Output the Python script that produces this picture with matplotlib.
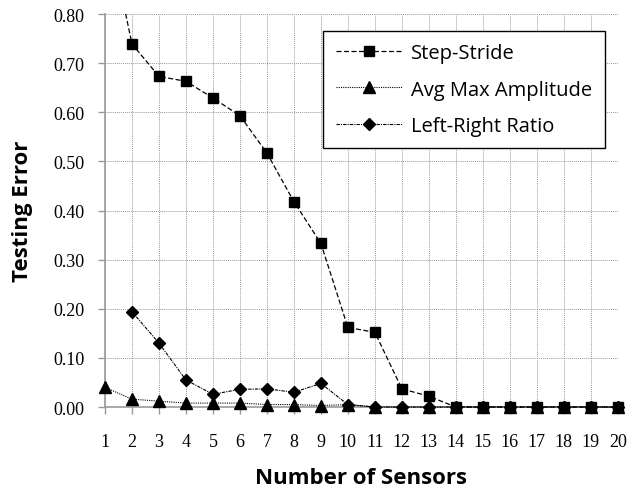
import numpy as np
import matplotlib
matplotlib.use("Agg")
import matplotlib.pyplot as plt
from matplotlib.patches import Rectangle

sensors = list(range(1, 21))
step_stride = [1.00, 0.739, 0.673, 0.663, 0.629, 0.593, 0.517, 0.418, 0.333, 0.162,
               0.152, 0.037, 0.022, 0.0, 0.0, 0.0, 0.0, 0.0, 0.0, 0.0]
avg_max_amp = [0.040, 0.016, 0.012, 0.008, 0.008, 0.008, 0.005, 0.005, 0.003, 0.005,
               0.0, 0.0, 0.0, 0.0, 0.0, 0.0, 0.0, 0.0, 0.0, 0.0]
left_right = [np.nan, 0.194, 0.130, 0.055, 0.026, 0.036, 0.037, 0.030, 0.048, 0.005,
              0.0, 0.0, 0.0, 0.0, 0.0, 0.0, 0.0, 0.0, 0.0, 0.0]
y_ticks = [0.0, 0.1, 0.2, 0.3, 0.4, 0.5, 0.6, 0.7, 0.8]

fig = plt.figure(figsize=(6.31, 4.89), dpi=100)
ax = fig.add_axes([0.1664, 0.1656, 0.8126, 0.8037])

ax.plot(sensors, step_stride, color="black", linestyle=(0, (4, 2)), linewidth=0.9,
        marker="s", markersize=7, label="Step-Stride", zorder=4)
ax.plot(sensors, avg_max_amp, color="black", linestyle=(0, (1, 1)), linewidth=0.8,
        marker="^", markersize=8, label="Avg Max Amplitude", zorder=3)
ax.plot(sensors, left_right, color="black", linestyle=(0, (3, 1, 1, 1)), linewidth=0.8,
        marker="D", markersize=6.5, label="Left-Right Ratio", zorder=3)

# let edge markers show, but keep the first step-stride point cut at the top
clip = Rectangle((-0.04, -0.06), 1.08, 1.06, transform=ax.transAxes)
for ln in ax.lines:
    ln.set_clip_path(clip)

ax.set_xlim(1, 20)
ax.set_ylim(0, 0.8)
ax.set_xticks(sensors)
ax.set_yticks(y_ticks)
ax.set_yticklabels([f"{v:.2f}" for v in y_ticks])
ax.grid(True, color="#999999", linestyle=(0, (1, 1)), linewidth=0.7)
ax.set_axisbelow(True)

for side in ["top", "right"]:
    ax.spines[side].set_visible(False)
for side in ["left", "bottom"]:
    ax.spines[side].set_color("#999999")
    ax.spines[side].set_linewidth(1.2)

ax.tick_params(axis="both", colors="#999999", length=5, width=1, labelcolor="black")
ax.tick_params(axis="x", pad=14)
ax.tick_params(axis="y", pad=10)
for lab in ax.get_xticklabels() + ax.get_yticklabels():
    lab.set_fontfamily("Liberation Serif")
    lab.set_fontsize(13)

ax.set_xlabel("Number of Sensors", fontsize=16, fontweight="bold", family="Open Sans", labelpad=12)
ax.set_ylabel("Testing Error", fontsize=16, fontweight="bold", family="Open Sans", labelpad=14)

leg = ax.legend(loc="upper right", bbox_to_anchor=(0.975, 0.957), borderaxespad=0,
                prop={"family": "Open Sans", "size": 14.5}, frameon=True, fancybox=False,
                handlelength=3.3, borderpad=0.62, labelspacing=0.8, handletextpad=0.45)
leg.get_frame().set_edgecolor("black")
leg.get_frame().set_linewidth(1.0)
leg.get_frame().set_alpha(1)

fig.savefig("out.png", dpi=100)
